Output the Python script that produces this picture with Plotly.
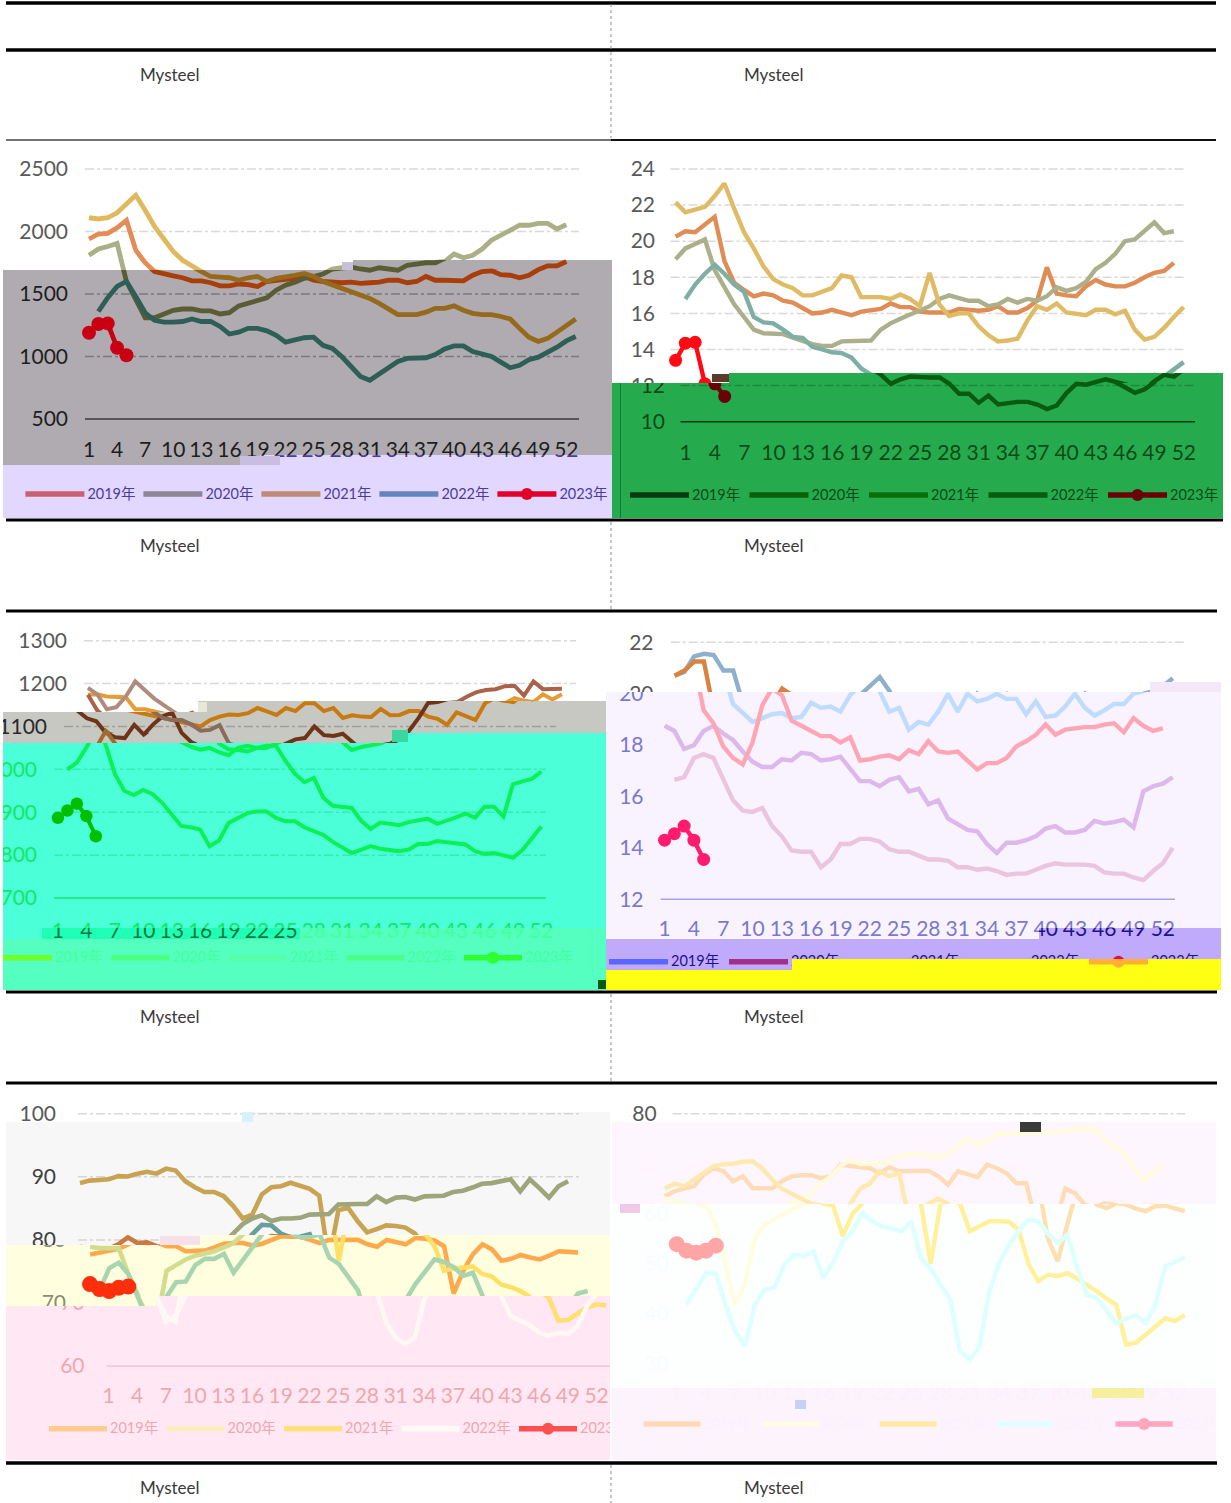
import plotly.graph_objects as go

W, H = 1231, 1503
YEARS = ["2019年", "2020年", "2021年", "2022年", "2023年"]
WEEK_TICKS = list(range(1, 53, 3))

P1_2019 = [1940,1980,1985,2030,2090,1850,1750,1680,1660,1645,1630,1605,1605,1590,1565,1565,1580,1575,1560,1600,1610,1615,1625,1640,1610,1600,1595,1590,1595,1585,1590,1595,1610,1610,1590,1600,1640,1610,1610,1610,1605,1650,1680,1685,1655,1650,1630,1650,1695,1725,1725,1760]
P1_2020 = [1810,1860,1880,1905,1600,1450,1310,1310,1345,1370,1380,1380,1365,1365,1340,1350,1405,1430,1450,1470,1530,1570,1595,1625,1640,1660,1700,1710,1715,1700,1690,1710,1700,1690,1730,1740,1750,1750,1760,1820,1790,1810,1860,1930,1970,2020,2050,2050,2065,2065,2020,2055]
P1_2021 = [2110,2100,2110,2150,2220,2290,2170,2040,1940,1840,1770,1720,1680,1640,1635,1630,1610,1630,1640,1600,1625,1635,1650,1665,1640,1600,1575,1550,1520,1500,1465,1425,1380,1335,1335,1335,1355,1385,1385,1405,1370,1345,1335,1335,1320,1300,1225,1155,1120,1145,1195,1250,1300]
P1_2022 = [None,1360,1470,1560,1600,1480,1350,1290,1275,1275,1280,1300,1280,1280,1240,1180,1195,1225,1225,1205,1170,1115,1130,1150,1155,1090,1065,1000,920,840,810,860,900,960,985,990,990,1015,1060,1085,1085,1040,1015,1000,955,910,930,975,995,1030,1075,1125,1160]
P1_2023 = [1190,1260,1265,1070,1010]

P2_2019 = [20.25,20.55,20.5,20.9,21.35,18.9,17.7,17.3,16.95,17.1,17,16.7,16.6,16.3,16,16.05,16.2,16.05,15.9,16.1,16.2,16.25,16.55,16.35,16.35,16.1,16.05,16.05,16.05,16.25,16.2,16.15,16.2,16.4,16.05,16.05,16.3,16.7,18.55,17.1,17,16.95,17.5,17.85,17.6,17.5,17.5,17.7,18,18.25,18.35,18.8]
P2_2020 = [19,19.6,19.85,20.1,18.4,17.4,16.5,15.8,15.1,14.9,14.9,14.85,14.65,14.45,14.3,14.2,14.2,14.45,14.45,14.45,14.5,15.1,15.45,15.7,15.95,16.2,16.4,16.8,17,16.85,16.7,16.7,16.4,16.5,16.8,16.6,16.8,16.7,16.95,17.45,17.25,17.4,17.75,18.45,18.8,19.3,20,20.1,20.6,21.05,20.45,20.55]
P2_2021 = [22.15,21.6,21.75,21.9,22.5,23.2,21.8,20.5,19.6,18.6,17.9,17.6,17.4,17,17,17.2,17.4,18.1,18,16.9,16.9,16.9,16.8,17.05,16.8,16.4,18.25,16.5,15.85,16,16,15.3,14.8,14.45,14.5,14.6,15.6,16.4,16.2,16.55,16.05,16,15.9,16.2,16.2,15.95,16.15,15.1,14.55,14.7,15.2,15.8,16.35]
P2_2022 = [None,16.8,17.6,18.2,18.7,18.2,17.6,17.2,15.8,15.5,15.45,15.1,14.7,14.65,14.15,14,13.85,13.8,13.55,12.95,12.6,12.1,12.35,12.5,12.45,12.45,12.45,12.1,11.55,11.55,11.05,11.45,10.95,11.05,11.1,11.1,10.95,10.7,10.9,11.6,12.1,12.05,12.2,12.35,12.2,11.9,11.6,11.8,12.25,12.6,12.5,12.9,13.3]
P2_2023 = [13.4,14.35,14.4,12.1,11.4]

P3_2019 = [1174,1175,1170,1168,1168,1140,1140,1135,1130,1125,1120,1115,1112,1105,1100,1115,1123,1128,1127,1131,1143,1135,1127,1143,1136,1154,1154,1136,1143,1120,1126,1123,1122,1141,1126,1127,1136,1136,1123,1118,1104,1133,1124,1115,1154,1166,1160,1157,1175,1163,1175]
P3_2020 = [1174,1137,1119,1112,1085,1075,1073,1104,1081,1105,1124,1132,1085,1064,1053,1046,1050,1040,1033,1050,1055,1050,1050,1060,1070,1073,1100,1080,1078,1083,1065,1045,1052,1055,1060,1070,1090,1120,1155,1157,1170,1180,1185,1187,1194,1195,1172,1205,1187,1187,1188]
P3_2021 = [1190,1175,1140,1145,1170,1205,1185,1165,1150,1135,1120,1115,1115,1105,1090,1092,1103,1060,1047,1045,1042,1050,1055,1055,1020,990,970,980,934,915,912,910,880,861,876,873,870,877,880,885,873,880,888,897,887,913,913,890,965,972,978,995]
P3_2022 = [None,1000,1016,1051,1090,1060,990,950,940,952,942,922,895,868,865,860,821,834,875,887,898,902,902,887,879,879,865,856,847,831,819,805,813,821,815,811,809,813,826,826,833,830,828,825,809,803,805,800,794,812,838,867]
P3_2023 = [887,904,920,891,844]

P4_2019 = [20.7,20.85,21.45,21.55,21.5,20.9,20.9,19.6,19.25,18.9,19.05,19.2,19.25,19.05,19.1,19.65,19.45,19.5,19.3,19.95,20.3,20.65,20.1,19.3,19.45,18.6,18.9,18.8,19.3,20,19.3,20,19.7,19.8,20,19.8,19.8,19.2,19.7,19.1,19.15,19.5,20,19.45,19.15,19.35,19.6,19.6,20,20.1,20.3,20.6]
P4_2020 = [18.75,18.55,17.85,18,18.55,18.75,18.45,18.2,17.75,17.35,17.15,17.15,17.45,17.4,17.7,17.65,17.4,17.45,17.55,17.05,16.6,16.6,16.4,16.65,16.75,16.2,16.3,15.7,15.85,15.15,14.9,14.7,14.65,14.15,13.8,14.2,14.2,14.3,14.45,14.75,14.85,14.6,14.6,14.7,15.05,14.95,15,15.1,14.8,16.2,16.4,16.5,16.75]
P4_2021 = [20.7,20.9,21.25,21.25,19.35,18.85,17.95,17.5,17.25,18.1,19.55,20.2,19.95,18.95,18.75,18.55,18.35,18.35,18.1,18.3,17.4,17.45,17.55,17.6,17.45,17.8,17.65,18.15,17.75,17.7,17.75,17.4,17.05,17.3,17.3,17.5,17.95,18.15,18.4,18.8,18.4,18.6,18.65,18.7,18.7,18.8,18.85,18.5,19.05,18.75,18.55,18.65]
P4_2022 = [None,16.65,16.75,17.5,17.65,17.5,16.7,15.85,15.45,15.4,15.55,14.85,14.45,13.9,13.85,13.85,13.25,13.55,14.15,14.15,14.35,14.35,14.25,13.95,13.85,13.85,13.7,13.55,13.55,13.5,13.25,13.25,13.15,13.2,13.1,12.95,13,13,13.15,13.3,13.4,13.35,13.35,13.35,13.3,13.05,13,13,12.85,12.75,13.1,13.4,14]
P4_2023 = [14.3,14.55,14.85,14.3,13.55]

P5_2019 = [77.7,78,78.2,78.6,79.3,80.4,79.5,79.6,79,79,78.2,78.2,78.3,78.8,79.4,79.5,79.5,79.1,79.4,80,80.6,80.5,80.5,80,79.5,80,80,80,80,79.3,78.9,80,79.6,79.3,80.3,80.2,79.9,79,71.5,75.1,77.7,79.3,78.5,76.7,77,77.6,77.2,76.9,77.5,78.2,78.1,78]
P5_2020 = [89,89.4,89.5,89.6,90.1,90.05,90.5,90.8,90.5,91.3,91,89.3,88.35,87.6,87.6,86.95,85.4,83.4,84,87.2,88.35,88.5,89.05,88.5,88.1,87,76.7,84.7,85.1,83,81.2,81.7,82.3,82.2,81.95,81,79,75.1,75.5,75.6,75.8,74.6,74.2,72.9,72.5,71.9,70.9,67.2,67.3,68.3,69.3,69.8,69.6]
P5_2021 = [78.9,78.7,78.7,78.7,74.6,71,68,67,75.1,76,76.9,77.5,77.8,78.2,78.8,79.5,80.9,82.5,83.4,83.9,83,83.4,83.4,83.5,84,84.1,84.1,85.6,85.7,85.7,85.7,86.9,86,86.7,86.8,86.4,86.9,87,87,87.6,87.8,88.3,88.9,89,89.3,89.6,87.7,89.6,88.2,86.7,88.5,89.3]
P5_2022 = [None,72,75.5,76.4,74.6,71,67,68,71,73.3,73.4,76,77,77,77.8,74.8,77,78.9,80.9,82.4,82.3,81,80.4,80.5,80.9,77.2,76.2,74.1,72,67,64.5,63.5,64.5,70.5,73,75,76.9,76.5,75.7,74.3,74.8,71.2,68,67.2,66.5,65.3,64.8,65.3,65.1,66.3,69.5,71.5,71.9]
P5_2023 = [73,72.2,71.9,72.4,72.6]

P6_2019 = [63.5,64.5,65,65.5,67.8,69.1,68.5,66.5,67.5,65.1,65.1,65.1,66.5,67.5,67.7,67.7,67.1,67.5,69.8,69.6,69.5,69.1,68.1,69.3,68.5,68.6,68.6,68.6,67.5,65.8,68.5,68,67.3,69.8,69.1,68.1,66.1,66.1,55,50.5,58,65,64.1,61.8,61.1,62.1,61.8,61,60.5,61.5,61.6,61,60.5]
P6_2020 = [63,62.5,62,61.5,58,50,41.8,46,55,57.8,59,60,61,62,63,64,66,67.5,69.5,70.8,70,70,70,70.5,71.5,71.8,72.1,71.6,71.3,72,73.5,75,73.5,74.8,75.9,76,76,76.2,76.2,76.3,76.3,76.6,77,77,77,75,73.3,72.1,69.5,66.8,68.2,69.8]
P6_2021 = [65,66,65.5,66.8,68,69.5,69.9,70,70.4,70.5,69,66.8,65,64,63,62,61.6,55.5,60,62,65,66,68.5,67.5,68.1,62,50,62,63,62,56.5,57.5,58.5,58.5,58.4,56.8,50,46.5,47.8,47.5,48.1,47,45.8,44.5,43,41.8,33.8,34.2,35.8,37.5,39.1,38.5,39.7]
P6_2022 = [None,41.8,45,48.1,48,41.8,36.5,33.5,41.8,44.8,45.2,49.8,51.8,51.5,52.5,47.2,50.2,54.5,56.5,60.1,58.5,57.5,57,56.5,58.5,51.1,49,46,42.8,32.5,30.8,33.5,44.5,50.1,53.8,56.5,58.8,58.5,56,54.1,55.8,49.1,43.8,43.1,40.5,38.1,39,39.7,38.1,41.8,49.5,50.4,51.3]
P6_2023 = [53.9,52.6,52.2,52.6,53.6]


def st(bg, text, grid, axis, colors, legend=None, shift=0):
    return dict(bg=bg, text=text, grid=grid, axis=axis, colors=colors, legend=legend or colors, shift=shift)


PANELS = [
    dict(series=[P1_2019, P1_2020, P1_2021, P1_2022, P1_2023], x1=89, dx=9.36, ytop=169, vtop=2500, ppv=0.125,
         ticks=[2500, 2000, 1500, 1000, 500], gx=(85, 579), ylab=68, xlab=452, lx=25.4, ly=494, ls=118, lw=59,
         lw_line=4.8, ms=14,
         styles=dict(
             w=st(None, "#595959", "#D9D9D9", "#595959", ["#E58B55", "#AAAF86", "#E0B95E", "#76ABA0", "#D0021B"]),
             g=st("#AFABB0", "#1E1E1E", "#7C797E", "#3A3A3A", ["#A83E0A", "#5A5C33", "#966A1C", "#2E5F56", "#C80012"]),
             l=st("#E2D7FF", "#4B3C9E", "#C0B4E6", "#2E2E8A", ["#5B4FC0", "#5B4FC0", "#5B4FC0", "#5B4FC0", "#E0002A"],
                  legend=["#C86070", "#8E8696", "#C08A78", "#6484BE", "#E0002A"])),
         windows=[(3, 611, 130, 260, "w"), (3, 353, 260, 270, "w"), (353, 612, 260, 270, "g"), (3, 612, 270, 455, "g"),
                  (3, 260, 455, 465, "g"), (260, 612, 455, 465, "l"), (3, 612, 465, 518, "l")]),
    dict(series=[P2_2019, P2_2020, P2_2021, P2_2022, P2_2023], x1=675.6, dx=9.77, ytop=169, vtop=24, ppv=18.05,
         ticks=[24, 22, 20, 18, 16, 14, 12, 10], gx=(670.5, 1185), ylab=655, xlab=454.5, lx=630, ly=495, ls=119.5, lw=59,
         lw_line=4.4, ms=13,
         styles=dict(
             w=st(None, "#595959", "#D9D9D9", "#595959", ["#E08C55", "#ABB08A", "#E0BB66", "#7FAEA5", "#FF0A14"]),
             g=st("#25AB4E", "#0B4A16", "#1A8A3C", "#063A10", ["#0A3A10", "#0A6008", "#0A6F0B", "#0A5A10", "#6A0308"],
                  shift=10)),
         windows=[(612, 1223, 130, 373, "w"), (612, 729, 373, 383, "w"), (729, 1223, 373, 383, "g"), (612, 1223, 383, 518, "g")]),
    dict(series=[P3_2019, P3_2020, P3_2021, P3_2022, P3_2023], x1=87.9, dx=9.48, ytop=640.7, vtop=1300, ppv=0.4289,
         ticks=[1300, 1200, 1100, 1000, 900, 800, 700], gx=(84, 576), ylab=67, xlab=932.5, lx=-6, ly=957.7, ls=117.5, lw=58,
         lw_line=4, ms=12.5,
         styles=dict(
             w=st(None, "#595959", "#D9D9D9", "#595959", ["#E59C34", "#A9634A", "#B08C7E", "#C09060", "#00C000"]),
             g=st("#C8C8C2", "#2A2A2A", "#A09E98", "#3A3A3A", ["#C8790F", "#6E3418", "#8C6A5C", "#A06B30", "#00C000"], shift=-20),
             a=st("#4BFFD9", "#13E860", "#2FF0B0", "#14E868", ["#0DF055", "#0DF055", "#0DF055", "#0DF055", "#00C000"], shift=-30),
             s=st("#1FFFB5", "#0B7A40", "#2FF0B0", "#14E868", ["#0DF055", "#0DF055", "#0DF055", "#0DF055", "#00C000"], shift=-30),
             b=st("#54FFBF", "#45FF9C", "#54FFBF", "#54FFBF", ["#54FFBF"] * 5,
                  legend=["#6FFF2A", "#48FF80", "#55FFA8", "#4DFF88", "#2EFF2E"], shift=-30)),
         windows=[(3, 607, 612, 701, "w"), (3, 198, 701, 712, "w"), (198, 607, 701, 712, "g"), (3, 607, 712, 733, "g"),
                  (3, 398, 733, 743, "g"), (398, 607, 733, 928, "a"), (3, 398, 743, 928, "a"), (3, 42, 928, 939, "a"),
                  (42, 300, 928, 939, "s"), (300, 607, 928, 939, "b"), (3, 607, 939, 990, "b")]),
    dict(series=[P4_2019, P4_2020, P4_2021, P4_2022, P4_2023], x1=674.6, dx=9.77, ytop=642.3, vtop=22, ppv=25.7,
         ticks=[22, 20, 18, 16, 14, 12], gx=(670.7, 1185), ylab=653.5, xlab=931, lx=609, ly=961.7, ls=120, lw=59,
         lw_line=4.4, ms=13,
         styles=dict(
             w=st(None, "#595959", "#D9D9D9", "#595959", ["#8FB0CC", "#8FB0CC", "#D98343", "#8FB0CC", "#FF1C6E"]),
             l=st("#F8F3FE", "#7A78CF", "#F8F3FE", "#AAA2E8", ["#BFDCFF", "#DDB8EC", "#FFA6B5", "#EBC4E0", "#FF1C6E"], shift=-10),
             p=st("#C0AAFB", "#1E1090", "#C0AAFB", "#C0AAFB", ["#C0AAFB"] * 5,
                  legend=["#5B66FF", "#A0308A", "#C0AAFB", "#C0AAFB", "#E01050"], shift=-10),
             y=st("#FFFF14", "#FFFF14", "#FFFF14", "#FFFF14", ["#FFFF14"] * 5,
                  legend=["#FFFF14", "#FFFF14", "#FFFF14", "#FFFF14", "#FFB030"], shift=-10)),
         windows=[(606, 1221, 612, 692, "w"), (606, 1221, 692, 928, "l"), (606, 1039, 928, 939, "l"), (1039, 1221, 928, 939, "p"),
                  (792, 1221, 939, 959, "p"), (606, 792, 939, 970, "p"), (792, 1221, 959, 970, "y"), (606, 1221, 970, 990, "y")]),
    dict(series=[P5_2019, P5_2020, P5_2021, P5_2022, P5_2023], x1=80, dx=9.57, ytop=1113.7, vtop=100, ppv=6.31,
         ticks=[100, 90, 80, 70, 60], gx=(78, 582), ylab=56, xlab=1398, lx=49, ly=1428.7, ls=117.5, lw=58,
         lw_line=4.6, ms=16,
         styles=dict(
             w=st(None, "#595959", "#D9D9D9", "#595959", ["#C87A40", "#C8A452", "#9EA57A", "#6A9E98", "#FF2E0C"]),
             g=st("#F7F7F7", "#404040", "#D5D5D5", "#595959", ["#C87A40", "#C8A452", "#9EA57A", "#6A9E98", "#FF2E0C"]),
             y=st("#FFFFE0", "#8C8C70", "#FFFFE0", "#595959", ["#FFA94E", "#FFE066", "#D2DC8E", "#A8D5B0", "#FF2E0C"], shift=10),
             p=st("#FFE8F3", "#F0A6AE", "#FFE8F3", "#FFC4D0", ["#FFC888", "#FFDF6F", "#FFF8F4", "#FFF8F4", "#FF5050"],
                  legend=["#FFCB8E", "#FFEBC0", "#FFE07C", "#FFF9F7", "#FF5050"], shift=28.5)),
         windows=[(6, 610, 1086, 1112, "w"), (6, 250, 1112, 1122, "w"), (250, 610, 1112, 1122, "g"), (6, 610, 1122, 1235, "g"),
                  (6, 197, 1235, 1245, "g"), (197, 610, 1235, 1296, "y"), (6, 197, 1245, 1296, "y"), (6, 156, 1296, 1306, "y"),
                  (156, 610, 1296, 1306, "p"), (6, 610, 1306, 1460, "p")]),
    dict(series=[P6_2019, P6_2020, P6_2021, P6_2022, P6_2023], x1=664.7, dx=9.77, ytop=1113.7, vtop=80, ppv=5.0,
         ticks=[80, 70, 60, 50, 40, 30], gx=(672.6, 1185), ylab=656.7, xlab=1395, lx=643.6, ly=1424, ls=118, lw=57,
         lw_line=4.4, ms=16,
         styles=dict(
             w=st(None, "#595959", "#D9D9D9", "#595959", ["#FFDCB8", "#FFFBDD", "#FFE9A8", "#DDFFFF", "#FFA5A5"]),
             p=st("#FEF6FE", "#FFF6FF", "#FEF6FE", "#FEF6FE", ["#FFDCB8", "#FFFBDD", "#FFE9B0", "#DDFFFF", "#FFA5A5"]),
             m=st("#FDFFFF", "#F8FCFE", "#FDFFFF", "#FDFFFF", ["#FFDFB0", "#FFFDE0", "#FFF09A", "#DDFFFF", "#FFA5A5"], shift=12),
             b=st("#FDF3FD", "#FDF0FB", "#FDF3FD", "#FDF3FD", ["#FDF3FD"] * 5,
                  legend=["#FFDAB9", "#FFFBE6", "#FFEAA8", "#E2FFFF", "#FFA5C0"], shift=12)),
         windows=[(612, 1216, 1086, 1122, "w"), (612, 1216, 1122, 1204, "p"), (612, 1216, 1204, 1388, "m"), (612, 1216, 1388, 1460, "b")]),
]

FONT = "Lato, 'Noto Sans CJK SC', sans-serif"
fig = go.Figure()
layout = {}
shapes = []
n = 0


def rect(x0, y0, x1, y1, color):
    shapes.append(dict(type="rect", xref="paper", yref="paper", x0=x0 / W, x1=x1 / W, y0=1 - y1 / H, y1=1 - y0 / H,
                       fillcolor=color, line=dict(width=0), layer="below"))


for p in PANELS:
    weeks_of = lambda arr: list(range(1, len(arr) + 1))
    for (wx0, wx1, wy0, wy1, key) in p["windows"]:
        s = p["styles"][key]
        n += 1
        sid = "" if n == 1 else str(n)
        xa, ya = "x" + sid, "y" + sid
        sh = s["shift"]
        w_of = lambda px, shift=sh: (px - p["x1"] - shift) / p["dx"] + 1
        v_of = lambda py: p["vtop"] - (py - p["ytop"]) / p["ppv"]
        layout["xaxis" + sid] = dict(domain=[wx0 / W, wx1 / W], range=[w_of(wx0), w_of(wx1)], visible=False,
                                     anchor=ya, fixedrange=True)
        layout["yaxis" + sid] = dict(domain=[1 - wy1 / H, 1 - wy0 / H], range=[v_of(wy1), v_of(wy0)], visible=False,
                                     anchor=xa, fixedrange=True)
        if s["bg"]:
            rect(wx0, wy0, wx1, wy1, s["bg"])
        common = dict(xaxis=xa, yaxis=ya, showlegend=False, hoverinfo="skip")
        gl, gr = w_of(p["gx"][0], 0), w_of(p["gx"][1], 0)
        gx, gy = [], []
        for t in p["ticks"][:-1]:
            gx += [gl, gr, None]
            gy += [t, t, None]
        fig.add_trace(go.Scatter(x=gx, y=gy, mode="lines", line=dict(color=s["grid"], width=1.5, dash="dashdot"), **common))
        base = p["ticks"][-1]
        fig.add_trace(go.Scatter(x=[gl, gr], y=[base, base], mode="lines", line=dict(color=s["axis"], width=1.6), **common))
        for i, arr in enumerate(p["series"]):
            if i < 4:
                fig.add_trace(go.Scatter(x=weeks_of(arr), y=arr, mode="lines",
                                         line=dict(color=s["colors"][i], width=p["lw_line"]), **common))
            else:
                fig.add_trace(go.Scatter(x=weeks_of(arr), y=arr, mode="lines+markers",
                                         line=dict(color=s["colors"][i], width=p["lw_line"]),
                                         marker=dict(color=s["colors"][i], size=p["ms"]), **common))
        # tick labels sit 2 px below the gridline they name
        lab_off = 2 / p["ppv"]
        fig.add_trace(go.Scatter(x=[w_of(p["ylab"], 0)] * len(p["ticks"]), y=[t - lab_off for t in p["ticks"]], mode="text",
                                 text=[str(t) for t in p["ticks"]], textposition="middle left",
                                 textfont=dict(family=FONT, size=21, color=s["text"]), **common))
        fig.add_trace(go.Scatter(x=WEEK_TICKS, y=[v_of(p["xlab"])] * len(WEEK_TICKS), mode="text",
                                 text=[str(t) for t in WEEK_TICKS], textposition="middle center",
                                 textfont=dict(family=FONT, size=21, color=s["text"]), **common))
        lv = v_of(p["ly"])
        for i, year in enumerate(YEARS):
            x0 = p["lx"] + i * p["ls"]
            fig.add_trace(go.Scatter(x=[w_of(x0), w_of(x0 + p["lw"])], y=[lv, lv], mode="lines",
                                     line=dict(color=s["legend"][i], width=5.5), **common))
            if i == 4:
                fig.add_trace(go.Scatter(x=[w_of(x0 + p["lw"] / 2)], y=[lv], mode="markers",
                                         marker=dict(color=s["legend"][i], size=12), **common))
            fig.add_trace(go.Scatter(x=[w_of(x0 + p["lw"] + 3)], y=[v_of(p["ly"] + 1)], mode="text", text=[year],
                                     textposition="middle right",
                                     textfont=dict(family=FONT, size=14.5, color=s["text"]), **common))

# page frame lines
for y, x0, x1, wd, col in [(3, 6, 1216, 3.5, "#000000"), (50, 6, 1216, 3.5, "#000000"), (140, 6, 611, 1.5, "#444444"),
                           (140, 611, 1216, 2, "#111111"), (520, 6, 1223, 3, "#000000"), (611, 6, 1217, 3, "#000000"),
                           (992, 6, 1217, 3, "#000000"), (1083, 6, 1217, 3, "#000000"), (1463, 6, 1217, 3.5, "#000000")]:
    shapes.append(dict(type="line", xref="paper", yref="paper", x0=x0 / W, x1=x1 / W, y0=1 - y / H, y1=1 - y / H,
                       line=dict(color=col, width=wd), layer="above"))
for y0, y1 in [(4, 138), (522, 610), (994, 1082), (1465, 1503)]:
    shapes.append(dict(type="line", xref="paper", yref="paper", x0=611 / W, x1=611 / W, y0=1 - y0 / H, y1=1 - y1 / H,
                       line=dict(color="#8C8C8C", width=1, dash="dot"), layer="above"))
# vertical rule inside the green panel
shapes.append(dict(type="line", xref="paper", yref="paper", x0=620.5 / W, x1=620.5 / W, y0=1 - 383 / H, y1=1 - 518 / H,
                   line=dict(color="#137A35", width=1), layer="above"))
# small corrupted patches in the picture
for x0, y0, x1, y1, col in [(342, 262, 353, 270, "#C8C0D8"), (240, 456, 280, 465, "#C9BDE0"), (712, 374, 729, 382, "#5A3A2A"),
                            (198, 702, 207, 712, "#E8E8D8"), (392, 730, 408, 742, "#3AD8A0"), (598, 980, 606, 989, "#0B5A0B"),
                            (1150, 682, 1221, 692, "#F4E8F8"), (1020, 1122, 1041, 1132, "#3A3A3A"), (242, 1112, 253, 1122, "#D8F0F8"),
                            (160, 1236, 200, 1245, "#F8E0E8"), (1092, 1388, 1144, 1398, "#F4F0A0"), (795, 1400, 806, 1409, "#C8D0F8"),
                            (620, 1204, 640, 1213, "#F0C8E8")]:
    shapes.append(dict(type="rect", xref="paper", yref="paper", x0=x0 / W, x1=x1 / W, y0=1 - y1 / H, y1=1 - y0 / H,
                       fillcolor=col, line=dict(width=0), layer="above"))

annotations = []
for y in (75, 545, 1016, 1487):
    for x in (170, 774):
        annotations.append(dict(text="Mysteel", x=x / W, y=1 - y / H, xref="paper", yref="paper", showarrow=False,
                                xanchor="center", yanchor="middle",
                                font=dict(family=FONT, size=17, color="#3A3A3A")))

fig.update_layout(width=W, height=H, margin=dict(l=0, r=0, t=0, b=0), paper_bgcolor="#FFFFFF", plot_bgcolor="rgba(0,0,0,0)",
                  shapes=shapes, annotations=annotations, showlegend=False, **layout)
fig.write_html("out.html", post_script="document.body.style.margin='0';", config={"displayModeBar": False})
